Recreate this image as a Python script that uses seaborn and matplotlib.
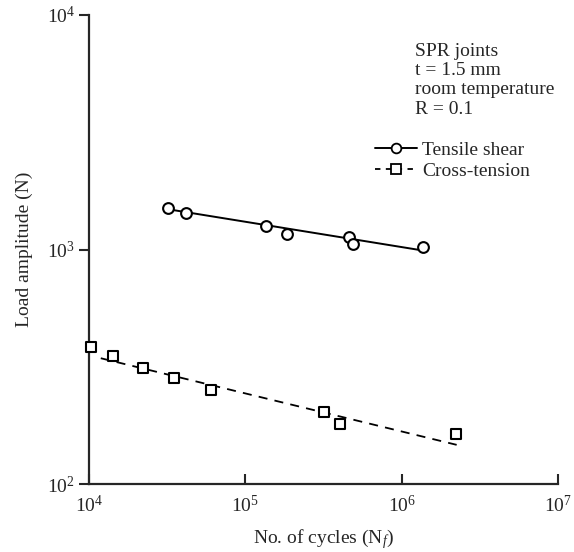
import numpy as np
import pandas as pd
import matplotlib
matplotlib.use("Agg")
import matplotlib.pyplot as plt
from matplotlib.lines import Line2D
import seaborn as sns

# %% Datos

# Tensile shear
ts_ciclos = [32200, 41800, 135000, 185000, 462000, 491000, 1365000]
ts_carga = [1500, 1426, 1256, 1167, 1135, 1059, 1025]
ts_ajuste_ciclos = [33000, 1370000]
ts_ajuste_carga = [1480, 990]

# Cross-tension
ct_ciclos = [10250, 14180, 22200, 35100, 60100, 318000, 404000, 2220000]
ct_carga = [385, 351, 313, 282, 251, 203, 181, 163]
ct_ajuste_ciclos = [11900, 2250000]
ct_ajuste_carga = [344, 147]

ticks_x = [1e4, 1e5, 1e6, 1e7]
etiquetas_x = [r'$10^{4}$', r'$10^{5}$', r'$10^{6}$', r'$10^{7}$']
ticks_y = [1e2, 1e3, 1e4]
etiquetas_y = [r'$10^{2}$', r'$10^{3}$', r'$10^{4}$']

texto_condiciones = "SPR joints\nt = 1.5 mm\nroom temperature\nR = 0.1"

# %% Estilo

sns.set_style("ticks")
plt.rcParams['font.family'] = ['Liberation Serif', 'DejaVu Serif']
plt.rcParams['mathtext.fontset'] = 'custom'
plt.rcParams['mathtext.rm'] = 'Liberation Serif'
plt.rcParams['mathtext.it'] = 'Liberation Serif:italic'

df_ts = pd.DataFrame({'ciclos': ts_ciclos, 'carga': ts_carga})
df_ct = pd.DataFrame({'ciclos': ct_ciclos, 'carga': ct_carga})
df_ts_fit = pd.DataFrame({'ciclos': ts_ajuste_ciclos, 'carga': ts_ajuste_carga})
df_ct_fit = pd.DataFrame({'ciclos': ct_ajuste_ciclos, 'carga': ct_ajuste_carga})

fig = plt.figure(figsize=(5.74, 5.52), dpi=100)
ax = fig.add_axes([0.155, 0.123, 0.817, 0.850])

# Lineas de ajuste
sns.lineplot(data=df_ts_fit, x='ciclos', y='carga', color='black', linewidth=1.4, ax=ax)
sns.lineplot(data=df_ct_fit, x='ciclos', y='carga', color='black', linewidth=1.3,
             linestyle=(0, (5, 4)), ax=ax)

# Puntos
sns.scatterplot(data=df_ts, x='ciclos', y='carga', marker='o', s=60, facecolor='white',
                edgecolor='black', linewidth=1.5, ax=ax, zorder=3)
sns.scatterplot(data=df_ct, x='ciclos', y='carga', marker='s', s=60, facecolor='white',
                edgecolor='black', linewidth=1.5, ax=ax, zorder=3, clip_on=False)

ax.set_xscale('log')
ax.set_yscale('log')
ax.set_xlim(1e4, 1e7)
ax.set_ylim(1e2, 1e4)
ax.set_xticks(ticks_x, etiquetas_x)
ax.set_yticks(ticks_y, etiquetas_y)
ax.minorticks_off()
ax.tick_params(axis='x', direction='in', length=7, width=1.5, labelsize=14, pad=8)
ax.tick_params(axis='y', direction='out', length=7, width=1.5, labelsize=14, pad=3)

for lado in ['left', 'bottom']:
    ax.spines[lado].set_linewidth(1.6)
sns.despine(ax=ax)

ax.set_xlabel(r'No. of cycles (N$_{f}$)', fontsize=14, labelpad=8)
ax.set_ylabel('Load amplitude (N)', fontsize=14, labelpad=10)

ax.text(0.695, 0.940, texto_condiciones, transform=ax.transAxes, fontsize=14,
        va='top', ha='left', linespacing=1.17)

handles = [
    Line2D([], [], color='black', linewidth=1.4, marker='o', markersize=7,
           markerfacecolor='white', markeredgewidth=1.3),
    Line2D([], [], color='black', linewidth=1.3, linestyle=(0, (3, 3)), marker='s',
           markersize=7, markerfacecolor='white', markeredgewidth=1.3),
]
ax.legend(handles, ['Tensile shear', 'Cross-tension'], loc='upper left',
          bbox_to_anchor=(0.61, 0.731), frameon=False, fontsize=14,
          handlelength=2.15, handletextpad=0.26, labelspacing=0.2, borderpad=0,
          borderaxespad=0)

fig.savefig('out.png', dpi=100)
